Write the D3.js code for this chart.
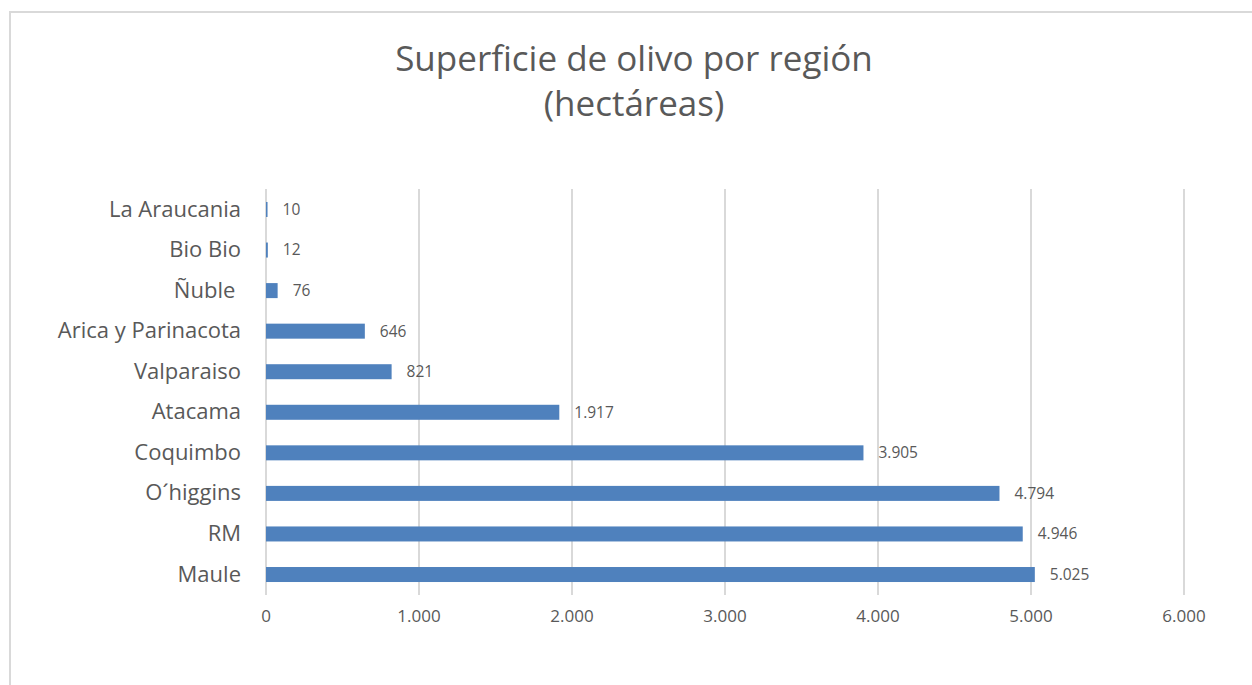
<!DOCTYPE html>
<html>
<head>
<meta charset="utf-8">
<script src="https://cdn.jsdelivr.net/npm/d3@7"></script>
<style>
  html, body { margin: 0; padding: 0; background: #fff; overflow: hidden; }
  svg { display: block; }
  svg text { font-family: "Open Sans", "Noto Sans", sans-serif; fill: #595959; }
</style>
</head>
<body>
<div id="chart"></div>
<script>
// regions from top to bottom, as shown in the chart
const regions = ['La Araucania', 'Bio Bio', 'Ñuble ', 'Arica y Parinacota', 'Valparaiso', 'Atacama', 'Coquimbo', 'O´higgins', 'RM', 'Maule'];
const hectares = [10, 12, 76, 646, 821, 1917, 3905, 4794, 4946, 5025];
const xTicks = [0, 1000, 2000, 3000, 4000, 5000, 6000];
const titleLines = ['Superficie de olivo por región', '(hectáreas)'];

const width = 1252, height = 685;
const margin = { left: 266, top: 189, right: 68, bottom: 90 };
const innerHeight = height - margin.top - margin.bottom;

const esFormat = d3.formatLocale({ decimal: ',', thousands: '.', grouping: [3], currency: ['', ''] }).format(',.0f');

const data = regions.map((r, i) => ({ region: r, value: hectares[i] }));

const svg = d3.select('#chart')
  .append('svg')
  .attr('width', width)
  .attr('height', height);

// chart frame (runs off the right and bottom edge like the screenshot)
svg.append('path')
  .attr('d', `M10,${height} V12 H${width}`)
  .attr('fill', 'none')
  .attr('stroke', '#d9d9d9')
  .attr('stroke-width', 2);

// title, one text per line
svg.selectAll('.title')
  .data(titleLines)
  .join('text')
  .attr('class', 'title')
  .attr('text-anchor', 'middle')
  .attr('font-size', 35)
  .attr('x', 634)
  .attr('y', (d, i) => 71 + i * 45)
  .text(d => d);

const g = svg.append('g')
  .attr('transform', `translate(${margin.left},${margin.top})`);

const xScale = d3.scaleLinear()
  .domain([0, 6000])
  .range([0, 918]);

const yScale = d3.scaleBand()
  .domain(regions)
  .range([0, innerHeight])
  .paddingInner(0.63)
  .paddingOuter(0.32);

// gridlines
g.selectAll('.grid')
  .data(xTicks)
  .join('line')
  .attr('class', 'grid')
  .attr('x1', d => xScale(d)).attr('x2', d => xScale(d))
  .attr('y1', 0).attr('y2', innerHeight)
  .attr('stroke', '#d9d9d9')
  .attr('stroke-width', 2);

// x tick labels
g.selectAll('.xtick')
  .data(xTicks)
  .join('text')
  .attr('class', 'xtick')
  .attr('x', d => xScale(d))
  .attr('y', innerHeight + 15)
  .attr('dy', '0.71em')
  .attr('text-anchor', 'middle')
  .attr('font-size', 17)
  .text(d => esFormat(d));

// category labels
g.selectAll('.ytick')
  .data(regions)
  .join('text')
  .attr('class', 'ytick')
  .attr('x', -25)
  .attr('y', d => yScale(d) + yScale.bandwidth() / 2)
  .attr('dy', '0.32em')
  .attr('text-anchor', 'end')
  .attr('font-size', 22)
  .style('white-space', 'pre')   // keep the trailing space after Ñuble
  .text(d => d);

// bars
g.selectAll('.bar')
  .data(data)
  .join('rect')
  .attr('class', 'bar')
  .attr('x', xScale(0))
  .attr('y', d => yScale(d.region))
  .attr('width', d => xScale(d.value) - xScale(0))
  .attr('height', yScale.bandwidth())
  .attr('fill', '#4f81bd');

// data labels
g.selectAll('.label')
  .data(data)
  .join('text')
  .attr('class', 'label')
  .attr('x', d => xScale(d.value) + 15)
  .attr('y', d => yScale(d.region) + yScale.bandwidth() / 2)
  .attr('dy', '0.35em')
  .attr('font-size', 15.5)
  .attr('fill', '#404040')
  .text(d => esFormat(d.value));
</script>
</body>
</html>
